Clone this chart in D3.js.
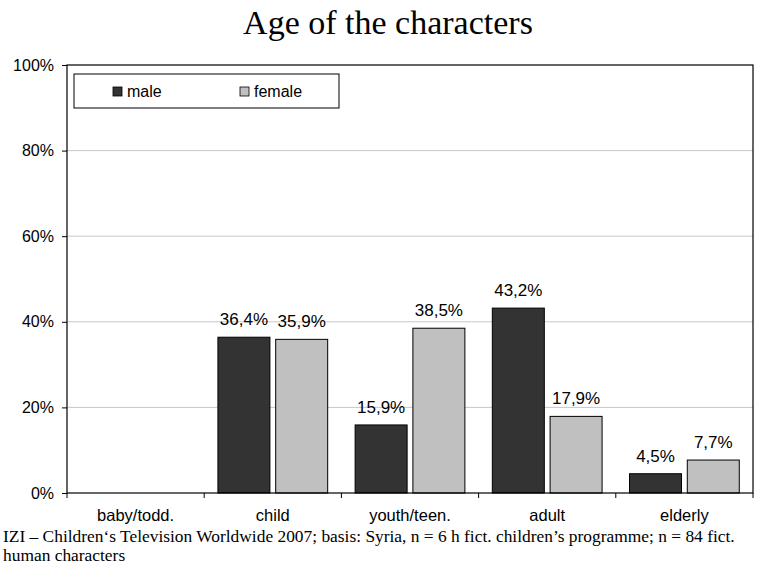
<!DOCTYPE html>
<html>
<head>
<meta charset="utf-8">
<script src="https://cdn.jsdelivr.net/npm/d3@7"></script>
<style>
  body { margin: 0; background: #fff; }
  svg { display: block; }
</style>
</head>
<body>
<svg id="chart" width="759" height="566"></svg>
<script>
// Age groups of the characters
const categories = ["baby/todd.", "child", "youth/teen.", "adult", "elderly"];
const seriesNames = ["male", "female"];
const maleValues = [0, 36.4, 15.9, 43.2, 4.5];
const femaleValues = [0, 35.9, 38.5, 17.9, 7.7];
const yTicks = [0, 20, 40, 60, 80, 100];
const seriesColors = ["#333333", "#c0c0c0"];

const svg = d3.select("#chart");
const margin = { left: 67, right: 6, top: 65, bottom: 73 };
const W = 759, H = 566;
const x0 = margin.left, x1 = W - margin.right;
const yTop = margin.top, yBot = H - margin.bottom;
const sans = "'Liberation Sans', Arial, sans-serif";
const serif = "'Liberation Serif', 'Times New Roman', serif";

const x = d3.scaleBand().domain(categories).range([x0, x1]).paddingInner(0).paddingOuter(0);
const groupPad = x.bandwidth() * 0.1;
const xs = d3.scaleBand().domain(seriesNames)
  .range([groupPad, x.bandwidth() - groupPad]).paddingInner(0.1).paddingOuter(0);
const y = d3.scaleLinear().domain([0, 100]).range([yBot, yTop]);

const fmt = v => d3.format(".1f")(v).replace(".", ",") + "%";

// Title
svg.append("text")
  .attr("x", 388).attr("y", 34)
  .attr("text-anchor", "middle")
  .style("font-family", serif)
  .style("font-size", "34px")
  .text("Age of the characters");

// Gridlines
svg.append("g").selectAll("line")
  .data(yTicks.filter(t => t > 0 && t < 100))
  .join("line")
  .attr("x1", x0).attr("x2", x1)
  .attr("y1", d => y(d)).attr("y2", d => y(d))
  .attr("stroke", "#c8c8c8").attr("stroke-width", 1);

// Y axis
const yAxis = d3.axisLeft(y).tickValues(yTicks).tickFormat(d => d + "%").tickSize(5).tickPadding(8);
const gy = svg.append("g").attr("transform", `translate(${x0},0)`).call(yAxis);
gy.select(".domain").remove();
gy.selectAll(".tick line").attr("stroke", "#000");
gy.selectAll("text")
  .style("font-family", sans)
  .style("font-size", "16px").attr("fill", "#000");

// X axis (ticks between categories)
const bounds = categories.map(c => x(c)).concat([x1]);
svg.append("g").selectAll("line").data(bounds).join("line")
  .attr("x1", d => d).attr("x2", d => d)
  .attr("y1", yBot).attr("y2", yBot + 5)
  .attr("stroke", "#000");
svg.append("g").selectAll("text").data(categories).join("text")
  .attr("x", d => x(d) + x.bandwidth() / 2)
  .attr("y", 521)
  .attr("text-anchor", "middle")
  .style("font-family", sans)
  .style("font-size", "16.5px")
  .text(d => d);

// Bars
const rows = categories.map((c, i) => ({ cat: c, values: [maleValues[i], femaleValues[i]] }));
const groups = svg.append("g").selectAll("g").data(rows).join("g")
  .attr("transform", d => `translate(${x(d.cat)},0)`);
groups.selectAll("rect")
  .data(d => d.values.map((v, i) => ({ key: seriesNames[i], v, i })).filter(d => d.v > 0))
  .join("rect")
  .attr("x", d => xs(d.key))
  .attr("width", xs.bandwidth())
  .attr("y", d => y(d.v))
  .attr("height", d => yBot - y(d.v))
  .attr("fill", d => seriesColors[d.i])
  .attr("stroke", "#000").attr("stroke-width", 1);
groups.selectAll("text")
  .data(d => d.values.map((v, i) => ({ key: seriesNames[i], v, i })).filter(d => d.v > 0))
  .join("text")
  .attr("x", d => xs(d.key) + xs.bandwidth() / 2)
  .attr("y", d => y(d.v) - 12)
  .attr("text-anchor", "middle")
  .style("font-family", sans)
  .style("font-size", "17px")
  .text(d => fmt(d.v));

// Plot frame
svg.append("rect")
  .attr("x", x0).attr("y", yTop)
  .attr("width", x1 - x0).attr("height", yBot - yTop)
  .attr("fill", "none").attr("stroke", "#000").attr("stroke-width", 1.2);

// Legend
const lg = svg.append("g");
lg.append("rect").attr("x", 74).attr("y", 74).attr("width", 265).attr("height", 34)
  .attr("fill", "#fff").attr("stroke", "#000");
const legendX = [113, 240];
seriesNames.forEach((s, i) => {
  lg.append("rect").attr("x", legendX[i]).attr("y", 87).attr("width", 9).attr("height", 9)
    .attr("fill", seriesColors[i]).attr("stroke", "#000").attr("stroke-width", 0.8);
  lg.append("text").attr("x", legendX[i] + 14).attr("y", 97)
    .style("font-family", sans)
    .style("font-size", "16px")
    .text(s);
});

// Source note
const note = svg.append("text")
  .style("font-family", serif)
  .style("font-size", "17.4px");
note.append("tspan").attr("x", 3).attr("y", 542)
  .text("IZI \u2013 Children\u2018s Television Worldwide 2007; basis: Syria, n = 6 h fict. children\u2019s programme; n = 84 fict.");
note.append("tspan").attr("x", 3).attr("y", 561).text("human characters");
</script>
</body>
</html>
